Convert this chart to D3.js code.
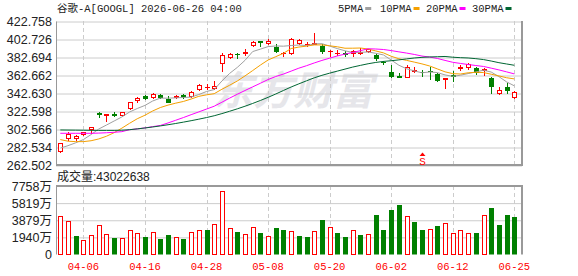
<!DOCTYPE html>
<html>
<head>
<meta charset="utf-8">
<script src="https://cdn.jsdelivr.net/npm/d3@7"></script>
<style>
  body { margin: 0; background: #fff; }
  svg { display: block; }
</style>
</head>
<body>
<div id="chart"></div>
<script>
const dates = [
  "03-31","04-01","04-02","04-06","04-07","04-08","04-09","04-10","04-13","04-14",
  "04-15","04-16","04-17","04-20","04-21","04-22","04-23","04-24","04-27","04-28",
  "04-29","04-30","05-01","05-04","05-05","05-06","05-07","05-08","05-11","05-12",
  "05-13","05-14","05-15","05-18","05-19","05-20","05-21","05-22","05-26","05-27",
  "05-28","05-29","06-01","06-02","06-03","06-04","06-05","06-08","06-09","06-10",
  "06-11","06-12","06-15","06-16","06-17","06-18","06-22","06-23","06-24","06-25"
];
const xTickLabels = ["04-06","04-16","04-28","05-08","05-20","06-02","06-12","06-25"];

const openPrices = [
  277.3,291.1,291.1,295.9,301.5,320.2,316.8,319.7,317.4,324.8,
  333.7,339.3,337.4,340.4,336.0,336.7,340.4,338.2,346.3,348.0,
  347.5,374.6,382.0,386.4,385.7,395.3,400.5,397.2,394.2,385.5,
  386.4,397.2,396.0,396.0,395.0,388.5,385.5,387.5,385.5,386.0,
  388.8,384.9,376.8,365.7,361.9,359.7,366.5,366.3,367.0,363.4,
  357.1,362.7,369.3,370.1,370.1,367.2,359.0,341.2,349.6,337.4
];
const highPrices = [
  287.5,299.6,295.9,299.5,305.3,321.8,319.2,321.8,322.0,333.0,
  338.5,340.4,343.0,341.8,339.6,339.9,341.8,345.2,353.0,353.0,
  356.0,387.5,387.5,386.8,391.6,400.5,400.8,402.4,396.8,388.3,
  404.2,402.8,399.4,409.7,396.8,390.8,390.5,389.0,390.0,392.4,
  392.0,385.7,378.3,373.8,364.5,373.8,371.2,368.2,371.9,364.6,
  359.4,367.0,373.8,376.3,371.9,370.1,360.8,349.6,354.1,344.8
];
const lowPrices = [
  275.9,289.2,289.2,294.5,296.7,315.1,310.7,315.9,316.0,324.0,
  331.5,334.8,336.0,336.0,331.2,335.6,335.6,336.7,344.9,345.9,
  345.5,366.3,380.0,380.0,383.8,393.8,393.5,395.7,387.5,383.0,
  385.3,396.0,394.2,395.7,385.7,382.4,383.8,382.4,383.0,384.9,
  387.0,378.3,373.8,359.0,359.0,359.0,364.5,360.8,357.1,355.2,
  346.8,355.2,367.0,368.2,362.7,361.5,341.2,340.4,341.5,335.9
];
const closePrices = [
  286.6,296.7,294.8,298.9,304.8,317.6,318.8,317.4,321.2,332.3,
  337.2,336.0,341.8,337.4,331.8,339.3,337.8,344.1,351.5,348.8,
  350.0,385.3,386.4,385.0,388.0,399.0,398.8,400.5,388.6,386.8,
  402.7,401.6,397.0,398.2,388.0,389.6,387.5,384.6,389.0,388.8,
  391.5,380.1,375.5,360.8,359.8,371.9,368.2,364.8,365.5,356.3,
  359.0,360.1,371.2,374.6,365.2,369.0,349.6,345.9,345.2,343.4
];
// volume in 万 shares
const volumes = [
  4369,3804,2109,1657,2222,3352,2335,1883,1845,2787,
  2448,1996,2561,1770,2222,1958,1770,2561,2787,2787,
  3465,7193,2975,2561,2335,3126,2486,2109,3013,2787,
  2712,2109,1996,2636,3917,3088,2448,1996,2749,2222,
  2297,4482,2787,5047,5612,4331,3691,2787,2862,3239,
  3540,2448,2749,2448,2448,4444,5273,3352,4482,4302.2638
];
const ma5 = [
  281.3,284.0,287.2,290.8,296.36,302.56,306.98,311.5,315.96,321.46,
  325.38,328.82,333.7,336.94,336.84,337.26,337.62,338.08,340.9,344.3,
  346.44,355.94,364.4,371.1,378.94,388.74,391.44,394.26,394.98,394.74,
  395.48,396.04,395.34,397.26,397.5,394.88,392.06,389.58,387.74,387.9,
  388.28,386.8,384.98,379.34,373.54,369.62,367.24,365.1,366.04,365.34,
  362.76,361.14,362.42,364.24,366.02,368.02,365.92,360.86,354.98,350.62
];
const ma10 = [
  290.8,289.0,288.5,288.5,289.5,291.5,294.5,298.5,303.5,308.91,
  313.97,317.9,322.6,326.45,329.15,331.32,333.22,335.89,338.92,340.57,
  341.85,346.78,351.24,356.0,361.62,367.59,373.69,379.33,383.04,386.84,
  392.11,393.74,394.8,396.12,396.12,395.18,394.05,392.46,392.5,392.7,
  391.58,389.43,387.28,383.54,380.72,378.95,377.02,375.04,372.69,369.44,
  366.19,364.19,363.76,365.14,365.68,365.39,363.53,361.64,359.61,358.32
];
const ma20 = [
  297.8,297.8,297.8,297.8,297.8,298.0,298.4,298.9,299.6,301.8,
  302.7,303.8,305.2,306.5,309.3,312.3,315.3,318.5,321.6,324.74,
  327.91,332.34,336.92,341.23,345.39,349.46,353.46,357.61,360.98,363.71,
  366.98,370.26,373.02,376.06,378.87,381.39,383.87,385.9,387.77,389.77,
  391.85,391.59,391.04,389.83,388.42,387.07,385.54,383.75,382.6,381.07,
  378.89,376.81,375.52,374.34,373.2,372.17,370.28,368.34,366.15,363.88
];
const ma30 = [
  301.5,301.4,301.3,301.2,301.1,301.0,301.0,301.0,301.2,301.8,
  302.7,303.7,304.8,306.0,307.3,308.7,310.2,311.8,313.5,315.3,
  317.3,319.7,322.3,325.0,327.9,331.0,334.3,337.8,341.5,345.44,
  349.31,352.81,356.21,359.52,362.3,364.7,366.99,369.23,371.49,373.37,
  375.18,376.65,377.77,378.55,379.49,380.57,381.59,382.28,382.74,382.99,
  383.29,382.45,381.95,381.6,380.84,379.84,378.2,376.38,374.93,373.49
];
const maNames = ["5PMA", "10PMA", "20PMA", "30PMA"];
const priceTicks = [262.502, 282.534, 302.566, 322.598, 342.630, 362.662, 382.694, 402.726, 422.758];
const volumeMax = 7758;
const signals = [{ date: "06-08", label: "S" }];
const title = "谷歌-A[GOOGL] 2026-06-26 04:00";

const W = 578, H = 276;
const price = { left: 56, right: 522, top: 21, bottom: 165 };
const vol = { left: 56, right: 522, top: 186, bottom: 254.5 };
const RED = "#ff0000", GREEN = "#008000";
const maColors = ["#a0a0a0", "#f5a000", "#ff00ff", "#006633"];
const monoFont = "'Liberation Mono', 'DejaVu Sans Mono', 'Noto Sans CJK SC', monospace";
const sansFont = "'Liberation Sans', Arial, 'Noto Sans CJK SC', sans-serif";

const svg = d3.select("#chart").append("svg")
  .attr("width", W).attr("height", H)
  .attr("viewBox", [0, 0, W, H]);

const x = d3.scaleBand()
  .domain(dates)
  .range([56.45, 518.15])
  .paddingInner(0.4)
  .paddingOuter(0.2);
const cx = d => Math.round(x(d) + x.bandwidth() / 2);

const yPrice = d3.scaleLinear().domain([262.502, 422.758]).range([price.bottom, price.top]);
const yVol = d3.scaleLinear().domain([0, volumeMax]).range([vol.bottom, vol.top]);

// watermark
svg.append("text")
  .attr("x", 213).attr("y", 105)
  .attr("fill", "#e6e6ea")
  .style("font-family", "'Noto Sans CJK SC', sans-serif")
  .style("font-size", "40px")
  .style("font-weight", "bold")
  .style("font-style", "italic")
  .text("东方财富");

// horizontal grid (price)
svg.append("g")
  .attr("transform", `translate(${price.left},0)`)
  .call(d3.axisRight(yPrice).tickValues(priceTicks).tickSize(price.right - price.left).tickFormat(""))
  .call(g => g.select(".domain").remove())
  .call(g => g.selectAll("line").attr("stroke", "#cccccc").attr("transform", "translate(0,0.5)"));

// horizontal grid (volume)
const volTicks = [0, volumeMax / 4, volumeMax / 2, volumeMax * 3 / 4, volumeMax];
svg.append("g")
  .attr("transform", `translate(${vol.left},0)`)
  .call(d3.axisRight(yVol).tickValues(volTicks.slice(1, 4)).tickSize(vol.right - vol.left).tickFormat(""))
  .call(g => g.select(".domain").remove())
  .call(g => g.selectAll("line").attr("stroke", "#cccccc"));

// vertical dashed grid
const vGrid = svg.append("g").attr("stroke", "#cccccc").attr("stroke-dasharray", "4,3");
xTickLabels.forEach(d => {
  vGrid.append("line").attr("x1", cx(d) + 0.5).attr("x2", cx(d) + 0.5)
    .attr("y1", price.top).attr("y2", price.bottom);
  vGrid.append("line").attr("x1", cx(d) + 0.5).attr("x2", cx(d) + 0.5)
    .attr("y1", vol.top).attr("y2", vol.bottom);
});

// frames
[price, vol].forEach(b => {
  svg.append("path")
    .attr("fill", "none").attr("stroke", "#999999").attr("stroke-width", 1)
    .attr("d", `M${b.left + 0.5},${b.bottom}V${b.top + 0.5}`);
  svg.append("path")
    .attr("fill", "none").attr("stroke", "#999999").attr("stroke-width", 2)
    .attr("d", b === price
      ? `M${b.left},${b.bottom}H${b.right}V${b.top}`
      : `M${b.left},${b.top}H${b.right}V${b.bottom}`);
});

// candles
const candles = svg.append("g");
dates.forEach((d, i) => {
  const o = openPrices[i], c = closePrices[i], h = highPrices[i], l = lowPrices[i];
  const up = c >= o;
  const color = up ? RED : GREEN;
  const xc = cx(d) + 0.5;
  const top = Math.round(yPrice(Math.max(o, c)));
  const bot = Math.round(yPrice(Math.min(o, c)));
  const yh = Math.round(yPrice(h)), yl = Math.round(yPrice(l));
  if (up) {
    candles.append("line").attr("stroke", color)
      .attr("x1", xc).attr("x2", xc).attr("y1", yh).attr("y2", top);
    candles.append("line").attr("stroke", color)
      .attr("x1", xc).attr("x2", xc).attr("y1", bot).attr("y2", yl);
    if (bot - top <= 1) {
      candles.append("rect").attr("fill", color)
        .attr("x", xc - 2.5).attr("y", top).attr("width", 5).attr("height", Math.max(1, bot - top));
    } else {
      candles.append("rect").attr("fill", "#fff").attr("stroke", color)
        .attr("x", xc - 2).attr("y", top + 0.5).attr("width", 4).attr("height", bot - top - 1);
    }
  } else {
    candles.append("line").attr("stroke", color)
      .attr("x1", xc).attr("x2", xc).attr("y1", yh).attr("y2", yl);
    candles.append("rect").attr("fill", color)
      .attr("x", xc - 2.5).attr("y", top).attr("width", 5).attr("height", Math.max(1, bot - top));
  }
});

// moving averages
const line = d3.line()
  .x((v, i) => x(dates[i]) + x.bandwidth() / 2)
  .y(v => yPrice(v));
[ma5, ma10, ma20, ma30].forEach((series, k) => {
  svg.append("path")
    .datum(series)
    .attr("fill", "none")
    .attr("stroke", maColors[k])
    .attr("stroke-width", 1)
    .attr("d", line);
});

// volume bars
const bars = svg.append("g");
dates.forEach((d, i) => {
  const prev = i === 0 ? openPrices[0] : closePrices[i - 1];
  const up = closePrices[i] >= prev;
  const xc = cx(d) + 0.5;
  const top = Math.round(yVol(volumes[i]));
  if (up) {
    bars.append("rect").attr("fill", "#fff").attr("stroke", RED)
      .attr("x", xc - 2).attr("y", top + 0.5).attr("width", 4).attr("height", vol.bottom - top - 0.5);
  } else {
    bars.append("rect").attr("fill", GREEN)
      .attr("x", xc - 2.5).attr("y", top).attr("width", 5).attr("height", vol.bottom - top);
  }
});

// signal markers
signals.forEach(s => {
  const xc = cx(s.date) + 0.5;
  svg.append("path").attr("fill", RED)
    .attr("d", `M${xc - 3},156L${xc},152.5L${xc + 3},156Z`);
  svg.append("text")
    .attr("x", xc).attr("y", 164.5)
    .attr("text-anchor", "middle")
    .attr("fill", RED)
    .style("font-family", monoFont)
    .style("font-size", "11px")
    .text(s.label);
});

// price axis labels
svg.append("g")
  .attr("transform", `translate(${price.left},0)`)
  .call(d3.axisLeft(yPrice).tickValues(priceTicks).tickSize(0).tickPadding(4).tickFormat(d3.format(".3f")))
  .call(g => g.select(".domain").remove())
  .call(g => g.selectAll("text")
    .attr("fill", "#222")
    .style("font-family", sansFont)
    .style("font-size", "12.5px"));

// volume axis labels
svg.append("g")
  .attr("transform", `translate(${vol.left},0)`)
  .call(d3.axisLeft(yVol).tickValues(volTicks).tickSize(0).tickPadding(4)
    .tickFormat(v => v === 0 ? "0" : `${Math.round(v)}万`))
  .call(g => g.select(".domain").remove())
  .call(g => g.selectAll("text")
    .attr("fill", "#222")
    .style("font-family", sansFont)
    .style("font-size", "12.5px"));

// date labels
svg.append("g")
  .attr("transform", `translate(0,${vol.bottom})`)
  .call(d3.axisBottom(x).tickValues(xTickLabels).tickSize(0).tickPadding(8))
  .call(g => g.select(".domain").remove())
  .call(g => g.selectAll("text")
    .attr("fill", RED)
    .style("font-family", monoFont)
    .style("font-size", "10.5px"));

// title + legend
svg.append("text")
  .attr("x", 57).attr("y", 12)
  .attr("fill", "#222")
  .style("font-family", monoFont)
  .style("font-size", "10.5px")
  .text(title);

const legendX = [338, 380, 426, 472];
maNames.forEach((name, k) => {
  const t = svg.append("text")
    .attr("x", legendX[k]).attr("y", 12)
    .attr("fill", "#222")
    .style("font-family", monoFont)
    .style("font-size", "10.5px")
    .text(name);
  const w = t.node().getComputedTextLength();
  svg.append("rect")
    .attr("x", legendX[k] + w + 2).attr("y", 7)
    .attr("width", 6).attr("height", 3)
    .attr("fill", maColors[k]);
});

svg.append("text")
  .attr("x", 57).attr("y", 181)
  .attr("fill", "#222")
  .style("font-family", sansFont)
  .style("font-size", "12px")
  .text(`成交量:${Math.round(volumes[volumes.length - 1] * 10000)}`);
</script>
</body>
</html>
